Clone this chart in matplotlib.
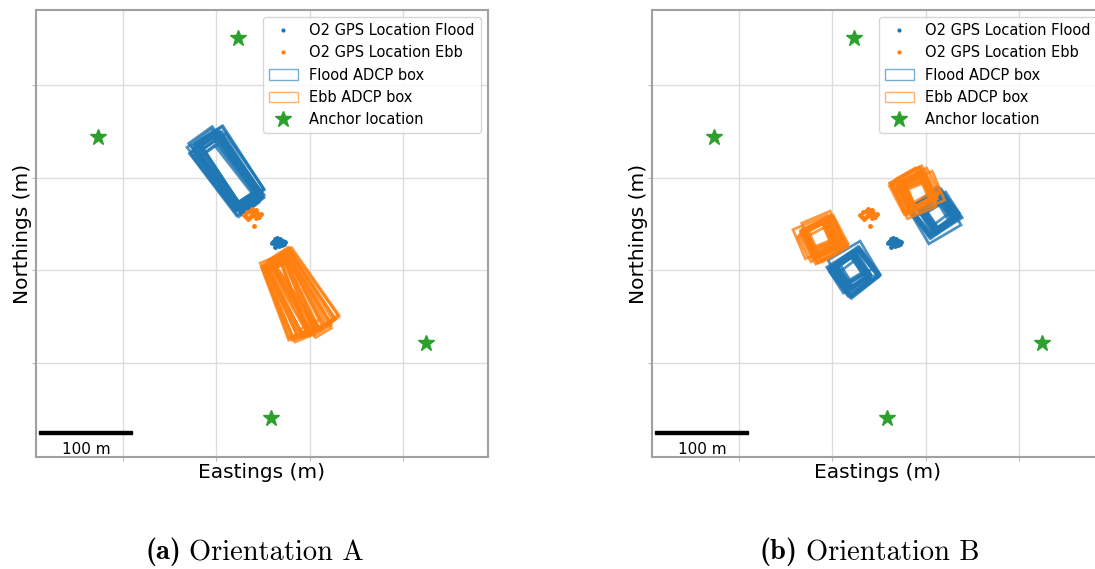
import matplotlib
matplotlib.use('Agg')
import numpy as np
import matplotlib.pyplot as plt
from matplotlib.patches import Rectangle, Patch
from matplotlib.lines import Line2D
from matplotlib.font_manager import FontProperties
from mpl_toolkits.axes_grid1.anchored_artists import AnchoredSizeBar

# anchor positions on the local grid (m)
anchor_x = [123.2, -26.8, 324.6, 158.6]
anchor_y = [350.6, 243.8, 21.6, -59.3]

# O2 GPS fixes while on flood / ebb (m)
flood_gps_x = [160, 162, 164, 166, 168, 170, 172, 163, 167, 171, 165, 169, 161, 174, 166, 168, 163, 170]
flood_gps_y = [129, 132, 127, 131, 134, 130, 128, 125, 126, 132, 135, 128, 131, 130, 129, 132, 134, 127]
ebb_gps_x = [130, 133, 136, 139, 142, 145, 148, 134, 138, 143, 137, 141, 146, 140, 132, 144, 136, 139]
ebb_gps_y = [160, 163, 157, 162, 165, 159, 161, 155, 166, 156, 159, 163, 157, 148, 158, 162, 164, 160]

# orientation A: one ADCP box per ping -> heading (deg), near range, length, width (m)
flood_a_heading = [123.0, 127.4, 124.6, 126.9, 122.9, 125.8, 127.7, 124.0, 126.3, 123.5,
                   127.0, 125.0, 122.8, 126.6, 124.3, 127.5, 123.8, 125.5, 126.1, 124.9]
flood_a_near = [53, 48, 58, 50, 60, 55, 47, 57, 51, 59, 54, 49, 56, 52, 60, 48, 57, 50, 55, 53]
flood_a_len = [80, 86, 74, 84, 76, 88, 78, 72, 85, 79, 87, 75, 82, 77, 73, 86, 81, 88, 74, 83]
flood_a_wid = [28, 34, 22, 37, 25, 31, 20, 38, 27, 23, 33, 29, 36, 21, 30, 26, 38, 24, 35, 20]

ebb_a_heading = [290.4, 301.9, 294.0, 304.8, 297.2, 291.8, 303.2, 295.9, 300.2, 290.4,
                 305.3, 293.4, 298.8, 301.0, 292.4, 304.0, 296.6, 300.8, 294.8, 298.1]
ebb_a_near = [56, 51, 61, 53, 62, 58, 50, 60, 54, 57, 52, 59, 55, 62, 51, 58, 53, 60, 56, 54]
ebb_a_len = [84, 90, 80, 88, 79, 86, 92, 82, 89, 81, 91, 78, 87, 83, 90, 85, 80, 88, 82, 86]
ebb_a_wid = [22, 26, 19, 28, 23, 18, 25, 21, 27, 20, 24, 26, 19, 22, 25, 21, 28, 20, 23, 27]

# orientation B: a pair of ADCP boxes per ping, either side of the vessel
flood_b_heading = [33.0, 36.8, 31.2, 38.3, 34.9, 30.6, 37.4, 32.5, 35.7, 38.5,
                   31.8, 34.0, 36.2, 30.9, 37.9, 33.6, 35.2, 32.1, 36.9, 34.4]
flood_b_near = [40, 33, 47, 36.5, 47.5, 31, 43, 42.5, 41, 36.5,
                42, 43.5, 34.5, 44.5, 34, 43.5, 46, 35, 43.5, 41.5]
flood_b_len = [30, 38, 22, 35, 19, 40, 26, 33, 24, 37, 20, 29, 39, 23, 34, 27, 18, 36, 31, 25]
flood_b_wid = [30, 38, 22, 35, 26, 40, 21, 33, 28, 37, 24, 31, 39, 20, 34, 27, 36, 23, 32, 29]

ebb_b_heading = [24.5, 28.7, 22.3, 29.6, 26.0, 23.1, 28.0, 22.9, 27.2, 30.0,
                 24.0, 25.5, 29.1, 22.0, 27.6, 25.0, 26.6, 23.7, 28.4, 25.8]
ebb_b_near = [43, 36, 49.5, 36.5, 46.5, 36.5, 48.5, 41, 40, 45.5,
              35.5, 46.5, 39, 48, 34, 46, 41.5, 44, 43.5, 41.5]
ebb_b_len = [28, 36, 21, 39, 25, 33, 19, 40, 30, 23, 37, 27, 34, 20, 38, 26, 31, 22, 35, 29]
ebb_b_wid = [31, 39, 23, 36, 27, 40, 21, 34, 29, 38, 24, 32, 37, 20, 35, 26, 33, 22, 30, 28]

flood_col = '#1f77b4'
ebb_col = '#ff7f0e'
anchor_col = '#2ca02c'


def draw_boxes(ax, vx, vy, headings, nears, lengths, widths, color, both_sides=False):
    # each box is laid out along +x from the vessel, then swung round to its heading
    for hd, nr, ln, wd in zip(headings, nears, lengths, widths):
        angles = [hd, hd + 180] if both_sides else [hd]
        for a in angles:
            ax.add_patch(Rectangle((vx + nr, vy - wd / 2), ln, wd, angle=a,
                                   rotation_point=(vx, vy), fill=False,
                                   edgecolor=color, lw=2.0, alpha=0.8))


fig = plt.figure(figsize=(10.95, 5.69), dpi=100)
ax_a = fig.add_axes([36 / 1095, 112 / 569, 452 / 1095, 447 / 569])
ax_b = fig.add_axes([652 / 1095, 112 / 569, 452 / 1095, 447 / 569])

vfx, vfy = np.mean(flood_gps_x), np.mean(flood_gps_y)
vex, vey = np.mean(ebb_gps_x), np.mean(ebb_gps_y)

draw_boxes(ax_a, vfx, vfy, flood_a_heading, flood_a_near, flood_a_len, flood_a_wid, flood_col)
draw_boxes(ax_a, vex, vey, ebb_a_heading, ebb_a_near, ebb_a_len, ebb_a_wid, ebb_col)
draw_boxes(ax_b, vfx, vfy, flood_b_heading, flood_b_near, flood_b_len, flood_b_wid, flood_col, True)
draw_boxes(ax_b, vex, vey, ebb_b_heading, ebb_b_near, ebb_b_len, ebb_b_wid, ebb_col, True)

for ax in (ax_a, ax_b):
    ax.plot(flood_gps_x, flood_gps_y, '.', color=flood_col, ms=5)
    ax.plot(ebb_gps_x, ebb_gps_y, '.', color=ebb_col, ms=5)
    ax.plot(anchor_x, anchor_y, '*', color=anchor_col, ms=12, ls='none')

    ax.set_xlim(-93.2, 391.1)
    ax.set_ylim(-101.4, 380.8)
    ax.set_xticks([0, 100, 200, 300])
    ax.set_yticks([0, 100, 200, 300])
    ax.tick_params(labelbottom=False, labelleft=False, length=3, color='#bbbbbb')
    ax.grid(True, color='#dddddd', lw=1)
    ax.set_axisbelow(True)
    for sp in ax.spines.values():
        sp.set_color('#a0a0a0')
        sp.set_linewidth(1.5)
    ax.set_xlabel('Eastings (m)', fontsize=14.5, labelpad=1.5)
    ax.set_ylabel('Northings (m)', fontsize=14.5, labelpad=0)

    handles = [
        Line2D([], [], marker='.', color=flood_col, ls='none', ms=4),
        Line2D([], [], marker='.', color=ebb_col, ls='none', ms=4),
        Patch(facecolor='none', edgecolor=flood_col, alpha=0.6),
        Patch(facecolor='none', edgecolor=ebb_col, alpha=0.6),
        Line2D([], [], marker='*', color=anchor_col, ls='none', ms=12),
    ]
    labels = ['O2 GPS Location Flood', 'O2 GPS Location Ebb', 'Flood ADCP box',
              'Ebb ADCP box', 'Anchor location']
    ax.legend(handles, labels, loc='upper right', fontsize=10.5)

    bar = AnchoredSizeBar(ax.transData, 100, '100 m', 'lower left', pad=0,
                          borderpad=0, sep=5.5, frameon=False, size_vertical=3.5,
                          color='black', fontproperties=FontProperties(size=11),
                          bbox_to_anchor=(0.007, 0.0), bbox_transform=ax.transAxes)
    ax.add_artist(bar)

# sub-figure captions: bold tag followed by roman text
for x0, tag, name in [(145, '(a)', 'Orientation A'), (760, '(b)', 'Orientation B')]:
    t = fig.text(x0 / 1095, 0.03, tag, family='cmb10', fontsize=20.5, ha='left', va='center')
    plt.annotate(name, xy=(1, 0), xycoords=t, xytext=(6, 0), textcoords='offset points',
                 family='cmr10', fontsize=20.5, ha='left', va='bottom',
                 annotation_clip=False)

fig.savefig('out.png', dpi=100)
